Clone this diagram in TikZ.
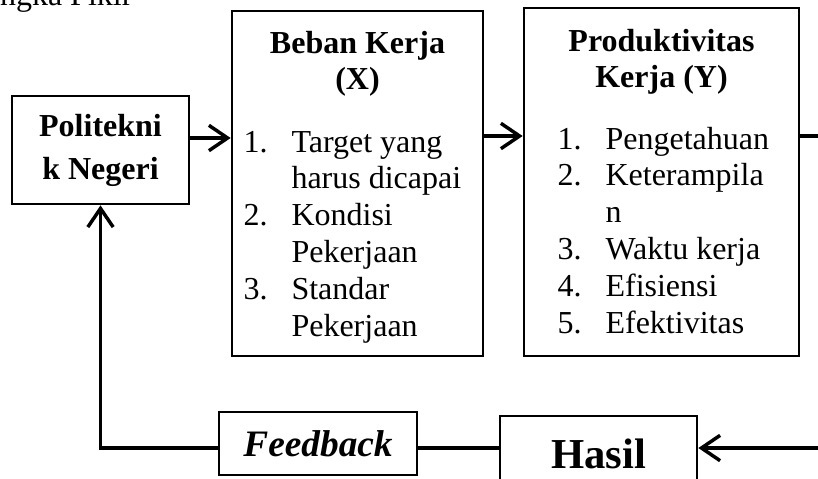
\documentclass[tikz,border=0pt]{standalone}
\usepackage{fontspec}
\setmainfont{Liberation Serif}
\usetikzlibrary{arrows.meta}
\newcommand{\px}{0.375pt}

\begin{document}
\begin{tikzpicture}[x=0.375pt,y=-0.375pt,
    box/.style={draw,line width=1pt,inner sep=0pt},
    link/.style={line width=1.3pt},
    arr/.style={link,-{Straight Barb[length=7pt,width=9.5pt]}},
    ttl/.style={anchor=base,inner sep=0pt,font=\fontsize{12}{13.8}\selectfont\bfseries},
    lst/.style={anchor=base west,inner sep=0pt,font=\fontsize{12}{13.8}\selectfont}]
    \useasboundingbox (0,0) rectangle (818,478);
    % heading, cut at the top edge
    \node[anchor=base east,inner sep=0pt,font=\fontsize{12}{13.8}\selectfont] (judul) at (133,5) {Kerangka Pikir};
    % boxes
    \node[box,minimum width=177*\px,minimum height=108*\px,align=center,font=\fontsize{12}{16.1}\selectfont\bfseries] (polit) at (100.5,150) {Politekni\\k Negeri};
    \node[box,minimum width=251*\px,minimum height=345*\px] (beban) at (357.5,183.5) {};
    \node[box,minimum width=275*\px,minimum height=348*\px] (prod) at (661.5,182) {};
    \node[box,minimum width=198*\px,minimum height=63*\px,font=\fontsize{14}{16}\selectfont\bfseries\itshape] (feedback) at (318,443.5) {Feedback};
    \node[box,minimum width=197*\px,minimum height=64*\px,text height=15pt,text depth=0pt,font=\fontsize{16}{18}\selectfont\bfseries] (hasil) at (598.5,448) {Hasil};
    % titles and indicators
    \node[ttl] (bebantitle) at (357.5,53) {\begin{tabular}[t]{@{}c@{}}Beban Kerja\\(X)\end{tabular}};
    \node[ttl] (prodtitle) at (661.5,51) {\begin{tabular}[t]{@{}c@{}}Produktivitas\\Kerja (Y)\end{tabular}};
    \node[lst] (bebanlist) at (243,152) {\begin{tabular}[t]{@{}p{18pt}@{}l@{}}
      1. & Target yang\\ & harus dicapai\\
      2. & Kondisi\\ & Pekerjaan\\
      3. & Standar\\ & Pekerjaan\end{tabular}};
    \node[lst] (prodlist) at (557,149) {\begin{tabular}[t]{@{}p{18pt}@{}l@{}}
      1. & Pengetahuan\\
      2. & Keterampila\\ & n\\
      3. & Waktu kerja\\
      4. & Efisiensi\\
      5. & Efektivitas\end{tabular}};
    % connectors
    \draw[arr] (polit.east |- 0,138) -- (beban.west |- 0,138);
    \draw[arr] (beban.east |- 0,136) -- (prod.west |- 0,136);
    \draw[arr] (prod.east |- 0,136) -- (840,136) |- (hasil.east);
    \draw[link] (hasil.west) -- (feedback.east |- hasil.west);
    \draw[arr] (feedback.west |- hasil.west) -| (polit.south);
\end{tikzpicture}
\end{document}
